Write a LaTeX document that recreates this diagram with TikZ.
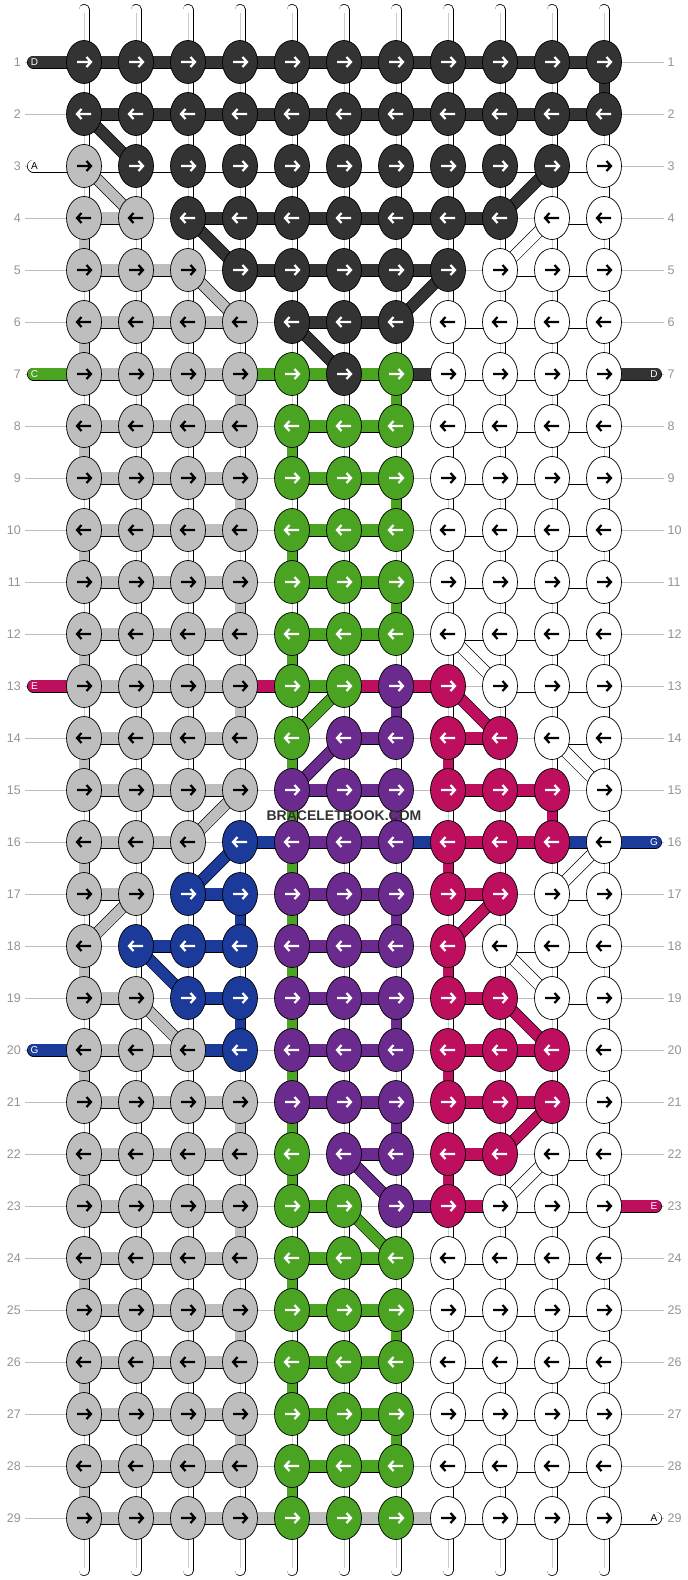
\documentclass[tikz,border=0pt]{standalone}
\usepackage{fontspec}
\setmainfont{Liberation Sans}
\usetikzlibrary{shapes.geometric}
\pgfdeclarelayer{guides}
\pgfdeclarelayer{strings}
\pgfdeclarelayer{bars}
\pgfsetlayers{guides,strings,bars,main}

\definecolor{colA}{HTML}{FFFFFF}
\definecolor{colB}{HTML}{BEBEBE}
\definecolor{colC}{HTML}{4AA321}
\definecolor{colD}{HTML}{333333}
\definecolor{colE}{HTML}{BE0E5E}
\definecolor{colF}{HTML}{6A2A8E}
\definecolor{colG}{HTML}{1C3A9A}
\colorlet{arrA}{black}
\colorlet{arrB}{black}
\colorlet{arrC}{white}
\colorlet{arrD}{white}
\colorlet{arrE}{white}
\colorlet{arrF}{white}
\colorlet{arrG}{white}

\tikzset{knot/.style={ellipse, draw=black, line width=0.7, fill=col#1,
    minimum width=35, minimum height=43, inner sep=0},
  arrowmark/.style={line width=2.2, line cap=butt, line join=miter},
  barA/.style={draw=black, double=colA},
  barB/.style={draw=black, double=colB},
  barC/.style={draw=black, double=colC},
  barD/.style={draw=black, double=colD},
  barE/.style={draw=black, double=colE},
  barF/.style={draw=black, double=colF},
  barG/.style={draw=black, double=colG},
  barN/.style={},
  hbar/.style={line width=0.7, double distance=11.6},
  vbar/.style={line width=0.7, double distance=9.6},
  dbar/.style={line width=0.7, double distance=10.6},
  tabbar/.style={line width=0.7, double distance=11.6, line cap=round},
  basestring/.style={line width=0.7, double distance=9.6, draw=black,
    double=white, line cap=round},
  basecore/.style={draw=colB!80!white, line width=0.8},
  guide/.style={draw=colB, line width=0.9},
  rownum/.style={text=black!42, font=\fontsize{12.5}{14}\selectfont,
    inner xsep=4, inner ysep=0},
  tabletter/.style={font=\fontsize{10}{12}\selectfont, inner sep=0},
  watermark/.style={text=colD, font=\bfseries\fontsize{14}{16}\selectfont}}

\begin{document}
\begin{tikzpicture}[x=1pt, y=-1pt]
  \useasboundingbox (0,0) rectangle (688,1580);
  % knots, one row after the other
  \foreach \r/\row in {
    1/{D,D,D,D,D,D,D,D,D,D,D}, 2/{D,D,D,D,D,D,D,D,D,D,D},
    3/{B,D,D,D,D,D,D,D,D,D,A}, 4/{B,B,D,D,D,D,D,D,D,A,A},
    5/{B,B,B,D,D,D,D,D,A,A,A}, 6/{B,B,B,B,D,D,D,A,A,A,A},
    7/{B,B,B,B,C,D,C,A,A,A,A}, 8/{B,B,B,B,C,C,C,A,A,A,A},
    9/{B,B,B,B,C,C,C,A,A,A,A}, 10/{B,B,B,B,C,C,C,A,A,A,A},
    11/{B,B,B,B,C,C,C,A,A,A,A}, 12/{B,B,B,B,C,C,C,A,A,A,A},
    13/{B,B,B,B,C,C,F,E,A,A,A}, 14/{B,B,B,B,C,F,F,E,E,A,A},
    15/{B,B,B,B,F,F,F,E,E,E,A}, 16/{B,B,B,G,F,F,F,E,E,E,A},
    17/{B,B,G,G,F,F,F,E,E,A,A}, 18/{B,G,G,G,F,F,F,E,A,A,A},
    19/{B,B,G,G,F,F,F,E,E,A,A}, 20/{B,B,B,G,F,F,F,E,E,E,A},
    21/{B,B,B,B,F,F,F,E,E,E,A}, 22/{B,B,B,B,C,F,F,E,E,A,A},
    23/{B,B,B,B,C,C,F,E,A,A,A}, 24/{B,B,B,B,C,C,C,A,A,A,A},
    25/{B,B,B,B,C,C,C,A,A,A,A}, 26/{B,B,B,B,C,C,C,A,A,A,A},
    27/{B,B,B,B,C,C,C,A,A,A,A}, 28/{B,B,B,B,C,C,C,A,A,A,A},
    29/{B,B,B,B,C,C,C,A,A,A,A}}{
    \pgfmathtruncatemacro{\dir}{1-2*mod(\r+1,2)}
    \foreach \k [count=\c] in \row {
      \node[knot=\k] (k-\r-\c) at ({32+52*\c},{10+52*\r}) {};
      \draw[arrowmark, draw=arr\k, shift={(k-\r-\c.center)}, xscale=\dir]
        (-7,0) -- (7,0) (2.5,-5) -- (7,0) -- (2.5,5);
    }
    \node[rownum, anchor=east] (nl-\r) at (25,{10+52*\r}) {\r};
    \node[rownum, anchor=west] (nr-\r) at (663.5,{10+52*\r}) {\r};
  }
  % string letters at the ends
  \foreach \r/\k in {1/D,3/A,7/C,13/E,20/G}
    \node[tabletter, text=arr\k] (tabl-\r) at (34.5,{10+52*\r}) {\k};
  \foreach \r/\k in {7/D,16/G,23/E,29/A}
    \node[tabletter, text=arr\k] (tabr-\r) at (654,{10+52*\r}) {\k};
  \node[watermark] (mark) at (344,816) {BRACELETBOOK.COM};

  \begin{pgfonlayer}{guides}
    \fill[white] (0,0) rectangle (688,1580);
    \foreach \r in {1,...,29}
      \draw[guide] (nl-\r) -- (nr-\r);
  \end{pgfonlayer}

  \begin{pgfonlayer}{strings}
    \foreach \c in {1,...,11}{
      \coordinate (top-\c) at ({32+52*\c},9.5);
      \coordinate (bot-\c) at ({32+52*\c},1570.5);
      \draw[basestring] (top-\c) -- (bot-\c);
      \draw[basecore] ([yshift=-3]top-\c) -- ([yshift=3]bot-\c);
    }
  \end{pgfonlayer}

  \begin{pgfonlayer}{bars}
    % strings turning down to the next row
    \foreach \r/\c/\k in {1/11/D, 3/11/A, 4/1/B, 5/11/A, 6/1/B, 6/8/A,
      7/4/B, 7/7/C, 7/11/A, 8/1/B, 8/5/C, 8/8/A, 9/4/B, 9/7/C, 9/11/A,
      10/1/B, 10/5/C, 10/8/A, 11/4/B, 11/7/C, 11/11/A, 12/1/B, 12/5/C,
      13/4/B, 13/7/F, 13/11/A, 14/1/B, 14/5/C, 14/8/E,
      15/5/C, 15/7/F, 15/10/E, 15/11/A, 16/1/B, 16/5/C, 16/8/E,
      17/4/G, 17/5/C, 17/7/F, 17/11/A, 18/1/B, 18/5/C, 18/8/E,
      19/4/G, 19/5/C, 19/7/F, 19/11/A, 20/1/B, 20/5/C, 20/8/E, 20/11/A,
      21/4/B, 21/5/C, 21/7/F, 21/11/A, 22/1/B, 22/5/C, 22/8/E,
      23/4/B, 23/11/A, 24/1/B, 24/5/C, 24/8/A, 25/4/B, 25/7/C, 25/11/A,
      26/1/B, 26/5/C, 26/8/A, 27/4/B, 27/7/C, 27/11/A,
      28/1/B, 28/5/C, 28/8/A}{
      \pgfmathtruncatemacro{\rr}{\r+1}
      \path[vbar, bar\k] (k-\r-\c.center) -- (k-\rr-\c.center);
    }
    % strings along the rows
    \foreach \r/\row in {
      1/{D,D,D,D,D,D,D,D,D,D}, 2/{D,D,D,D,D,D,D,D,D,D},
      3/{A,A,A,A,A,A,A,A,A,A}, 4/{B,N,D,D,D,D,D,D,N,A},
      5/{B,B,N,D,D,D,D,N,A,A}, 6/{B,B,B,N,D,D,N,A,A,A},
      7/{B,B,B,C,C,C,D,A,A,A}, 8/{B,B,B,N,C,C,N,A,A,A},
      9/{B,B,B,N,C,C,N,A,A,A}, 10/{B,B,B,N,C,C,N,A,A,A},
      11/{B,B,B,N,C,C,N,A,A,A}, 12/{B,B,B,N,C,C,N,A,A,A},
      13/{B,B,B,E,C,E,E,N,A,A}, 14/{B,B,B,N,N,F,N,E,N,A},
      15/{B,B,B,N,F,F,N,E,E,N}, 16/{B,B,N,G,F,F,G,E,E,G},
      17/{B,N,G,N,F,F,N,E,N,A}, 18/{N,G,G,N,F,F,N,N,A,A},
      19/{B,N,G,N,F,F,N,E,N,A}, 20/{B,B,G,N,F,F,N,E,E,N},
      21/{B,B,B,N,F,F,N,E,E,N}, 22/{B,B,B,N,N,F,N,E,N,A},
      23/{B,B,B,N,C,N,F,E,A,A}, 24/{B,B,B,N,C,C,N,A,A,A},
      25/{B,B,B,N,C,C,N,A,A,A}, 26/{B,B,B,N,C,C,N,A,A,A},
      27/{B,B,B,N,C,C,N,A,A,A}, 28/{B,B,B,N,C,C,N,A,A,A},
      29/{B,B,B,B,B,B,B,A,A,A}}{
      \foreach \b [count=\c] in \row {
        \pgfmathtruncatemacro{\cc}{\c+1}
        \path[hbar, bar\b] (k-\r-\c.center) -- (k-\r-\cc.center);
      }
    }
    % strings moving over by one knot
    \foreach \r/\c/\cc/\k in {2/1/2/D, 3/10/9/D, 4/3/4/D, 5/8/7/D, 6/5/6/D,
      3/1/2/B, 5/3/4/B, 15/4/3/B, 17/2/1/B, 19/2/3/B,
      4/10/9/A, 12/8/9/A, 14/10/11/A, 16/11/10/A, 18/9/10/A, 22/10/9/A,
      13/6/5/C, 23/6/7/C, 13/8/9/E, 17/9/8/E, 19/9/10/E, 21/10/9/E,
      14/6/5/F, 22/6/7/F, 16/4/3/G, 18/2/3/G}{
      \pgfmathtruncatemacro{\rr}{\r+1}
      \path[dbar, bar\k] (k-\r-\c.center) -- (k-\rr-\cc.center);
    }
    % loose ends
    \foreach \r/\k in {1/D,3/A,7/C,13/E,20/G}{
      \coordinate (tl-\r) at (33.5,{10+52*\r});
      \path[tabbar, bar\k] (tl-\r) -- (k-\r-1.center);
    }
    \foreach \r/\k in {7/D,16/G,23/E,29/A}{
      \coordinate (tr-\r) at (655.5,{10+52*\r});
      \path[tabbar, bar\k] (k-\r-11.center) -- (tr-\r);
    }
  \end{pgfonlayer}
\end{tikzpicture}
\end{document}
